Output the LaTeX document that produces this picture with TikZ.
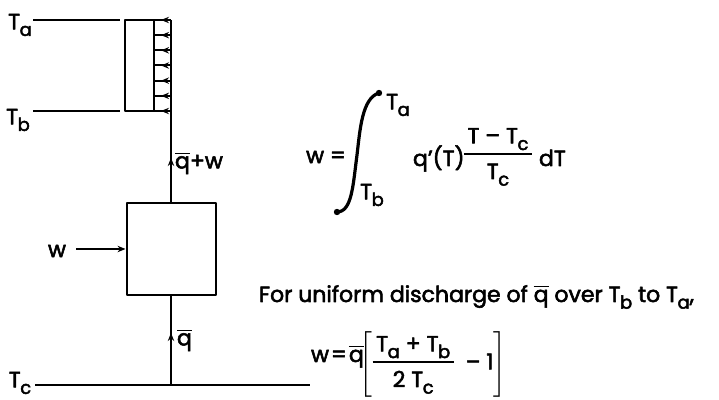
\documentclass[tikz,border=0pt]{standalone}
\usepackage{amsmath}
\usepackage{fontspec}
\setmainfont{Poppins}
\usetikzlibrary{arrows.meta}

\newcommand{\qbar}{$\overline{\text{q}}$}
\newcommand{\Ts}[1]{T\kern-0.02em\raisebox{-0.55ex}{\fontsize{9}{10}\selectfont #1}}
\newcommand{\fr}[2]{\begin{tabular}{@{\,}c@{\,}}#1\\[1pt]\hline\rule{0pt}{12pt}#2\end{tabular}}
\setlength{\arrayrulewidth}{0.9pt}

\begin{document}
\begin{tikzpicture}[x=0.5pt,y=-0.5pt,>={Stealth[length=4pt,width=3.2pt]},line join=round,line width=1pt,
  lbl/.style={inner sep=0pt,font=\fontsize{11}{13}\selectfont\addfontfeature{FakeBold=2.5}},
  vessel/.style={draw,minimum width=44.5pt,minimum height=46pt,inner sep=0pt}]
  \useasboundingbox (0,0) rectangle (719,400);
  % temperature levels
  \coordinate (TaL) at (33,20);
  \coordinate (TaR) at (120,20);
  \coordinate (TbL) at (33,111);
  \coordinate (TbR) at (120,111);
  \coordinate (TcL) at (35,385);
  \coordinate (TcR) at (310,385);
  \coordinate (top) at (171,20);
  \coordinate (bot) at (171,385);
  \coordinate (win) at (76,249);
  \node[lbl] (Ta) at (20,25) {\Ts{a}};
  \node[lbl] (Tb) at (18,120) {\Ts{b}};
  \node[lbl] (Tc) at (20,383) {\Ts{c}};
  \node[lbl] (w) at (57,251) {w};
  \node[vessel] (box) at (171,249) {};
  \draw (TaL) -- (TaR);
  \draw (TbL) -- (TbR);
  \draw (TcL) -- (TcR);
  \draw (bot) -- (box.south);
  \draw (box.north) -- (top);
  \draw[->] (win) -- (box.west);
  % discharge region
  \draw (top) -- (125,20) -- (125,111) -- (171,111);
  \draw (154,20) -- (154,111);
  \foreach \k [evaluate=\k as \yy using 20+\k*91/6] in {0,...,6} {
    \draw (171,\yy) -- (154,\yy);
    \draw[->] (171,\yy) -- (161,\yy);
  }
  \draw[->] (171,172) -- (171,158);
  \draw[->] (171,347) -- (171,333);
  \node[lbl,anchor=west] (qw) at (174,163) {\qbar+w};
  \node[lbl,anchor=west] (q) at (176,340) {\qbar};
  % integral
  \node[lbl] (weq) at (326,157) {w =};
  \coordinate (itop) at (379,93);
  \coordinate (ibot) at (337,212);
  \draw[line width=1.6pt,line cap=round] (itop) .. controls (362,98) and (360,130) .. (357,155)
    .. controls (353,185) and (352,212) .. (ibot);
  \fill (itop) circle (1.6pt);
  \fill (ibot) circle (1.6pt);
  \node[lbl] (up) at (398,105) {\Ts{a}};
  \node[lbl] (lo) at (372,195) {\Ts{b}};
  \node[lbl,anchor=base west] (qp) at (412,166) {q'(T)};
  \node[lbl] (frac) at (498,156) {\fr{T – \Ts{c}}{\Ts{c}}};
  \node[lbl,anchor=base west] (dT) at (538,166) {dT};
  % uniform case
  \node[lbl,anchor=base west] (note) at (258,302)
    {For uniform discharge of \qbar\ over \Ts{b} to \Ts{a},};
  \node[lbl,anchor=base west] (weq2) at (310,362) {w\kern1pt=\kern1pt\qbar};
  \node[lbl] (brk) at (433,364)
    {$\left[\text{\fr{\Ts{a} + \Ts{b}}{2 \Ts{c}}\ \ – 1}\right]$};
\end{tikzpicture}
\end{document}
